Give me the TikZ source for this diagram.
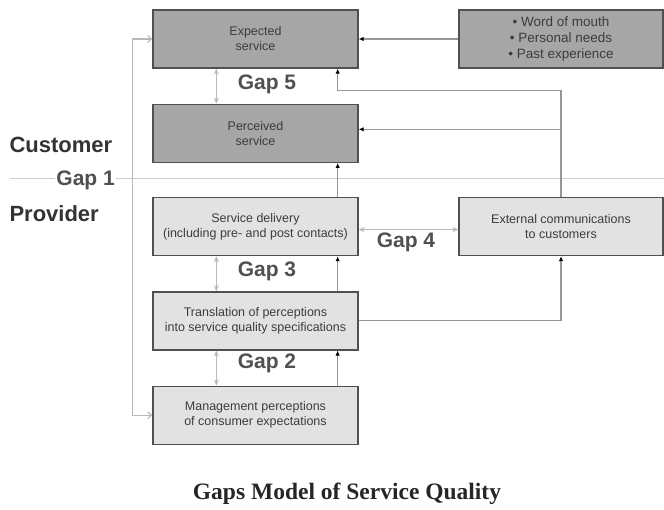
\documentclass[tikz,border=0pt]{standalone}
\usepackage{fontspec}
\setmainfont{Liberation Serif}
\setsansfont{Liberation Sans}
\usetikzlibrary{arrows.meta,calc,positioning}
\definecolor{dark_gray}{RGB}{80,80,80}
\definecolor{line_gray}{RGB}{150,150,150}
\definecolor{light_gray}{RGB}{185,185,185}
\definecolor{rule_gray}{RGB}{205,205,205}
\definecolor{box_dark}{RGB}{166,166,166}
\definecolor{box_light}{RGB}{226,226,226}
\definecolor{text_gray}{RGB}{60,60,60}

\begin{document}
\begin{tikzpicture}[x=1pt,y=-1pt,font=\sffamily,
    box/.style={draw=dark_gray,line width=1.3pt,minimum width=205pt,minimum height=58pt,
        align=center,text=text_gray,inner sep=2pt,font=\sffamily\fontsize{12.5}{15}\selectfont},
    darkbox/.style={box,fill=box_dark},
    lightbox/.style={box,fill=box_light},
    gaplabel/.style={text=dark_gray,font=\sffamily\bfseries\fontsize{21}{22}\selectfont},
    side/.style={text=black!80,font=\sffamily\bfseries\fontsize{22}{24}\selectfont,anchor=west},
    flow/.style={draw=line_gray,line width=1.1pt,-{Latex[length=5pt,width=4.5pt,black]}},
    gaparrow/.style={draw=light_gray,line width=1pt,{Stealth[length=6pt,width=5pt]}-{Stealth[length=6pt,width=5pt]}},
    loopline/.style={draw=light_gray,line width=1.1pt,{Straight Barb[length=4pt,width=7pt]}-{Straight Barb[length=4pt,width=7pt]}}]
    \useasboundingbox (0,0) rectangle (664,510);

    % boxes
    \node[darkbox] (expected) at (255.5,39) {Expected\\service};
    \node[darkbox,below=35pt of expected] (perceived) {Perceived\\service};
    \node[lightbox,below=34pt of perceived] (delivery) {Service delivery\\(including pre- and post contacts)};
    \node[lightbox,below=35pt of delivery] (translation) {Translation of perceptions\\into service quality specifications};
    \node[lightbox,below=35pt of translation] (management) {Management perceptions\\of consumer expectations};
    \node[darkbox,minimum width=204pt,font=\sffamily\fontsize{13.5}{16}\selectfont] (sources) at (561,39)
        {\textbullet\ Word of mouth\\\textbullet\ Personal needs\\\textbullet\ Past experience};
    \node[lightbox,minimum width=204pt] (external) at (561,226.5) {External communications\\to customers};

    % customer / provider line
    \coordinate (rule_left) at (10,179);
    \coordinate (rule_right) at (664,179);
    \draw[rule_gray,line width=1pt] (rule_left) -- (rule_right);
    \node[side] (customer) at (6,145) {Customer};
    \node[side] (provider) at (6,214) {Provider};
    \node[gaplabel,fill=white,inner sep=1pt,anchor=east] (gap1) at (116,180) {Gap 1};

    % flows
    \draw[flow] (sources) -- (expected);
    \draw[flow] (external.north) |- ($(expected.south east)+(-21,22)$) -- ($(expected.south east)+(-21,0)$);
    \draw[flow] ($(perceived.east -| external.north)+(0,-4)$) -- ($(perceived.east)+(0,-4)$);
    \draw[flow] ($(delivery.north east)+(-21,0)$) -- ($(perceived.south east)+(-21,0)$);
    \draw[flow] ($(translation.north east)+(-21,0)$) -- ($(delivery.south east)+(-21,0)$);
    \draw[flow] ($(management.north east)+(-21,0)$) -- ($(translation.south east)+(-21,0)$);
    \draw[flow] (translation.east) -| (external.south);
    \draw[loopline] (expected.west) -- ++(-20,0) |- (management.west);

    % gaps
    \draw[gaparrow] ($(expected.south west)+(64,0)$) -- ($(perceived.north west)+(64,0)$);
    \draw[gaparrow] ($(delivery.south west)+(64,0)$) -- ($(translation.north west)+(64,0)$);
    \draw[gaparrow] ($(translation.south west)+(64,0)$) -- ($(management.north west)+(64,0)$);
    \draw[gaparrow] ($(delivery.east)+(0,3)$) -- ($(delivery.east -| external.west)+(0,3)$);
    \node[gaplabel] (gap5) at (267,84) {Gap 5};
    \node[gaplabel] (gap3) at (267,271) {Gap 3};
    \node[gaplabel] (gap2) at (267,363) {Gap 2};
    \node[gaplabel] (gap4) at (406,242) {Gap 4};

    \node[font=\rmfamily\bfseries\fontsize{23.5}{26}\selectfont,text=black!85] (title) at (347,494)
        {Gaps Model of Service Quality};
\end{tikzpicture}
\end{document}
